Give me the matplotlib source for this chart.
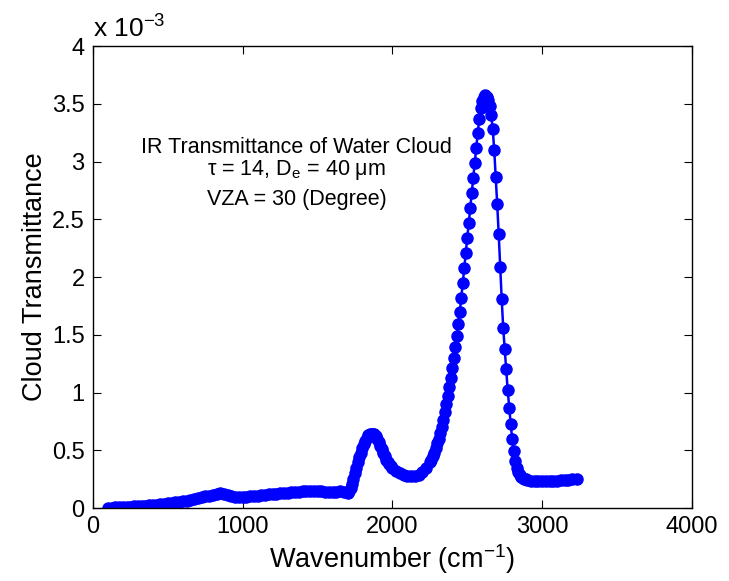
import matplotlib
matplotlib.use("Agg")
import matplotlib.pyplot as plt

# Cloud transmittance (units of 1e-3)
wavenumber = [100, 125, 150, 175, 200, 225, 250, 275, 300, 325, 350, 375, 400, 425,
              450, 475, 500, 525, 550, 575, 600, 625, 650, 675, 700, 725, 750, 775,
              800, 825, 850, 875, 900, 925, 950, 975, 1000, 1025, 1050, 1075, 1100,
              1125, 1150, 1175, 1200, 1225, 1250, 1275, 1300, 1325, 1350, 1375, 1400,
              1425, 1450, 1475, 1500, 1525, 1550, 1575, 1600, 1625, 1650, 1675, 1700,
              1710, 1720, 1730, 1740, 1750, 1760, 1770, 1780, 1790, 1800, 1810, 1820,
              1830, 1840, 1850, 1860, 1870, 1880, 1890, 1900, 1910, 1920, 1930, 1940,
              1950, 1960, 1970, 1980, 1990, 2000, 2025, 2050, 2075, 2100, 2125, 2150,
              2175, 2200, 2225, 2250, 2260, 2270, 2280, 2290, 2300, 2310, 2320, 2330,
              2340, 2350, 2360, 2370, 2380, 2390, 2400, 2410, 2420, 2430, 2440, 2450,
              2460, 2470, 2480, 2490, 2500, 2510, 2520, 2530, 2540, 2550, 2560, 2570,
              2580, 2590, 2600, 2610, 2620, 2630, 2640, 2650, 2660, 2670, 2680, 2690,
              2700, 2710, 2720, 2730, 2740, 2750, 2760, 2770, 2780, 2790, 2800, 2810,
              2820, 2830, 2840, 2850, 2860, 2870, 2880, 2890, 2900, 2925, 2950, 2975,
              3000, 3025, 3050, 3075, 3100, 3125, 3150, 3175, 3200, 3230]
transmittance = [0.0, 0.003, 0.005, 0.006, 0.008, 0.010, 0.012, 0.014, 0.016, 0.018,
                 0.021, 0.024, 0.027, 0.030, 0.033, 0.036, 0.040, 0.045, 0.050, 0.055,
                 0.060, 0.065, 0.071, 0.078, 0.085, 0.092, 0.100, 0.108, 0.115, 0.122,
                 0.127, 0.120, 0.112, 0.104, 0.098, 0.096, 0.097, 0.099, 0.102, 0.105,
                 0.108, 0.112, 0.115, 0.119, 0.122, 0.125, 0.128, 0.131, 0.134, 0.137,
                 0.140, 0.142, 0.144, 0.145, 0.146, 0.146, 0.146, 0.145, 0.143, 0.141,
                 0.140, 0.142, 0.145, 0.140, 0.130,
                 0.145, 0.17, 0.21, 0.25, 0.30, 0.35, 0.40, 0.44, 0.48, 0.52, 0.55,
                 0.58, 0.61, 0.63, 0.64, 0.645, 0.645, 0.64, 0.62, 0.60, 0.57, 0.54,
                 0.51, 0.48, 0.45, 0.42, 0.40, 0.38, 0.36, 0.35,
                 0.32, 0.30, 0.29, 0.28, 0.277, 0.28, 0.29, 0.31, 0.35,
                 0.40, 0.42, 0.45, 0.48, 0.52, 0.56, 0.60, 0.65, 0.70, 0.76, 0.83,
                 0.90, 0.97, 1.05, 1.13, 1.21, 1.30, 1.39, 1.49, 1.59, 1.70, 1.82, 1.95,
                 2.08, 2.21, 2.34, 2.47, 2.60, 2.73, 2.86, 2.99, 3.12, 3.25, 3.37, 3.46,
                 3.52, 3.56, 3.575, 3.56, 3.53, 3.48, 3.40, 3.28, 3.10, 2.87, 2.63,
                 2.37, 2.09, 1.81, 1.56, 1.38, 1.20, 1.02, 0.87, 0.73, 0.60, 0.49, 0.41,
                 0.35, 0.31, 0.285, 0.27, 0.26, 0.252, 0.247, 0.243,
                 0.238, 0.234, 0.232, 0.232, 0.233, 0.234, 0.236, 0.238, 0.240, 0.242,
                 0.245, 0.248, 0.250]

xticks = [0, 1000, 2000, 3000, 4000]
yticks = [0, 0.5, 1, 1.5, 2, 2.5, 3, 3.5, 4]
ytick_labels = ["0", "0.5", "1", "1.5", "2", "2.5", "3", "3.5", "4"]

plt.rcParams['font.family'] = ['Liberation Sans', 'DejaVu Sans']
plt.rcParams['mathtext.fontset'] = 'custom'
plt.rcParams['mathtext.rm'] = 'Liberation Sans'
plt.rcParams['mathtext.it'] = 'Liberation Sans'

fig = plt.figure(figsize=(7.29, 5.81), dpi=100)
ax = fig.add_axes([0.1276, 0.1256, 0.8214, 0.7952])

ax.plot(wavenumber, transmittance, color='#0000ff', marker='o', markersize=8,
        linewidth=1.8)

ax.set_xlim(0, 4000)
ax.set_ylim(0, 4)
ax.set_xticks(xticks)
ax.set_yticks(yticks)
ax.set_yticklabels(ytick_labels)
ax.tick_params(direction='in', top=True, right=True, labelsize=17, length=6,
               width=0.8, pad=6)
for s in ax.spines.values():
    s.set_linewidth(1.0)

ax.set_xlabel("Wavenumber (cm$^{-1}$)", fontsize=19.5, labelpad=3)
ax.set_ylabel("Cloud Transmittance", fontsize=19.5, labelpad=3)
ax.text(0.0, 1.008, "x 10$^{-3}$", transform=ax.transAxes, fontsize=19,
        ha='left', va='bottom')

ax.text(1360, 3.125, "IR Transmittance of Water Cloud", fontsize=15.5, ha='center', va='center')
ax.text(1360, 2.93, "\u03c4 = 14, D$_\\mathrm{e}$ = 40 \u03bcm", fontsize=15.5, ha='center', va='center')
ax.text(1360, 2.675, "VZA = 30 (Degree)", fontsize=15.5, ha='center', va='center')

fig.savefig("out.png", dpi=100, facecolor='white')
